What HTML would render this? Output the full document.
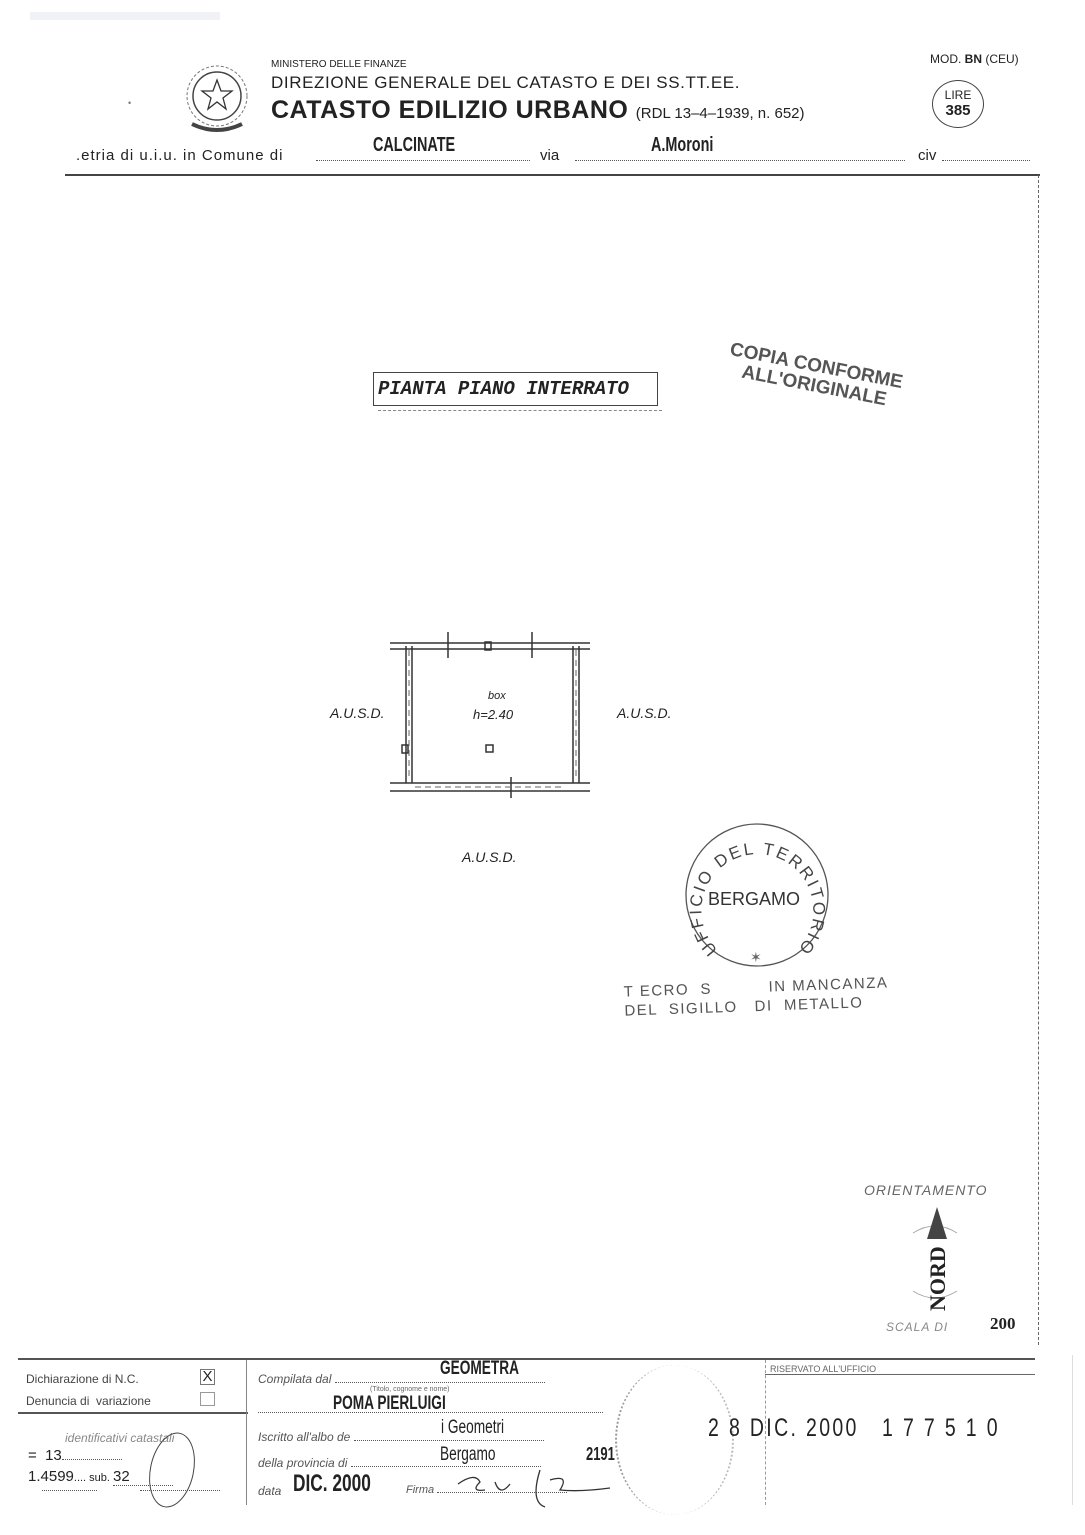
<!DOCTYPE html>
<html><head><meta charset="utf-8"><style>
html,body{margin:0;padding:0;background:#fff}
body{width:1085px;height:1535px;position:relative;overflow:hidden;font-family:"Liberation Sans",sans-serif;color:#222}
.a{position:absolute;white-space:nowrap}
.cond{display:inline-block;transform:scaleX(.72);transform-origin:left center;font-weight:bold}
.dots{border-bottom:1px dotted #555}
.i{font-style:italic}
</style></head><body>
<div class="a" style="left:30px;top:12px;width:190px;height:8px;background:#f1f2f6"></div>

<svg class="a" style="left:182px;top:58px" width="70" height="80" viewBox="0 0 70 80">
<circle cx="35" cy="38" r="24" fill="none" stroke="#444" stroke-width="1.5"/>
<circle cx="35" cy="38" r="30" fill="none" stroke="#777" stroke-width="1" stroke-dasharray="3 2"/>
<polygon points="35,22 39,33 50,33 41,40 44,51 35,44 26,51 29,40 20,33 31,33" fill="none" stroke="#333" stroke-width="1.3"/>
<path d="M10 66 Q35 78 60 66" stroke="#444" stroke-width="4" fill="none"/>
</svg>
<div class="a" style="left:271px;top:59px;font-size:10px">MINISTERO DELLE FINANZE</div>
<div class="a" style="left:271px;top:73px;font-size:17px;letter-spacing:0.6px">DIREZIONE GENERALE DEL CATASTO E DEI SS.TT.EE.</div>
<div class="a" style="left:271px;top:96px;font-size:25px;font-weight:bold;letter-spacing:0.5px">CATASTO EDILIZIO URBANO <span style="font-size:15px;font-weight:normal;letter-spacing:0">(RDL 13–4–1939, n. 652)</span></div>
<div class="a" style="left:930px;top:52px;font-size:12px">MOD. <b>BN</b> (CEU)</div>
<div class="a" style="left:932px;top:80px;width:52px;height:48px;border:1.5px solid #444;border-radius:50%;text-align:center;font-size:12px;line-height:16px;padding-top:6px;box-sizing:border-box">LIRE<br><b style="font-size:15px">385</b></div>
<div class="a" style="left:128px;top:98px;font-size:9px;color:#777">•</div>

<div class="a" style="left:76px;top:147px;font-size:15px;letter-spacing:1px">.etria di u.i.u. in Comune di</div>
<div class="a dots" style="left:316px;top:160px;width:214px"></div>
<div class="a" style="left:540px;top:147px;font-size:15px">via</div>
<div class="a dots" style="left:575px;top:160px;width:330px"></div>
<div class="a" style="left:918px;top:147px;font-size:15px">civ</div>
<div class="a dots" style="left:942px;top:160px;width:88px"></div>
<div class="a" style="left:373px;top:134px;font-size:20px"><span class="cond">CALCINATE</span></div>
<div class="a" style="left:651px;top:134px;font-size:20px"><span class="cond">A.Moroni</span></div>

<div class="a" style="left:65px;top:174px;width:975px;height:2px;background:#444"></div>
<div class="a" style="left:1038px;top:175px;width:1px;height:1170px;border-left:1px dashed #666"></div>

<div class="a" style="left:373px;top:372px;width:285px;height:34px;border:1.5px solid #444;box-sizing:border-box"></div>
<div class="a" style="left:378px;top:406px;width:284px;height:4px;border-bottom:1px dashed #888"></div>
<div class="a" style="left:378px;top:378px;font-family:'Liberation Mono',monospace;font-style:italic;font-weight:bold;font-size:19px">PIANTA PIANO INTERRATO</div>

<div class="a" style="left:732px;top:340px;font-size:19px;font-weight:bold;color:#555;transform:rotate(11deg);transform-origin:left top;line-height:20px">COPIA CONFORME<br>&nbsp;&nbsp;&nbsp;ALL'ORIGINALE</div>

<svg class="a" style="left:385px;top:630px" width="215" height="170" viewBox="0 0 215 170">
<g stroke="#333" fill="none" stroke-width="1.5">
<line x1="5" y1="13" x2="205" y2="13"/><line x1="5" y1="19" x2="205" y2="19"/>
<line x1="5" y1="153" x2="205" y2="153"/><line x1="5" y1="161" x2="205" y2="161"/>
<line x1="21" y1="16" x2="21" y2="153"/><line x1="27" y1="16" x2="27" y2="153"/>
<line x1="188" y1="16" x2="188" y2="153"/><line x1="194" y1="16" x2="194" y2="153"/>
<line x1="63" y1="2" x2="63" y2="28"/><line x1="147" y1="2" x2="147" y2="28"/>
<line x1="126" y1="147" x2="126" y2="168"/>
<rect x="100" y="12" width="6" height="8"/>
<rect x="17" y="115" width="6" height="8"/>
<rect x="101" y="115" width="7" height="7"/>
</g>
<g stroke="#666" stroke-width="1" stroke-dasharray="6 4">
<line x1="24" y1="20" x2="24" y2="150"/><line x1="191" y1="20" x2="191" y2="150"/>
<line x1="30" y1="157" x2="180" y2="157"/>
</g>
</svg>
<div class="a i" style="left:488px;top:690px;font-size:11px">box</div>
<div class="a i" style="left:473px;top:707px;font-size:13px">h=2.40</div>
<div class="a i" style="left:330px;top:705px;font-size:14px">A.U.S.D.</div>
<div class="a i" style="left:617px;top:705px;font-size:14px">A.U.S.D.</div>
<div class="a i" style="left:462px;top:849px;font-size:14px">A.U.S.D.</div>

<svg class="a" style="left:680px;top:822px" width="160" height="150" viewBox="0 0 160 150">
<circle cx="77" cy="73" r="71" fill="none" stroke="#555" stroke-width="1.3"/>
<defs><path id="arc" d="M 38 128 A 56 56 0 1 1 122 122"/></defs>
<text font-family="Liberation Sans" font-size="17" fill="#444"><textPath href="#arc" textLength="262" lengthAdjust="spacing">UFFICIO DEL TERRITORIO</textPath></text>
<text x="28" y="83" font-family="Liberation Sans" font-size="18" fill="#333">BERGAMO</text>
<text x="70" y="140" font-size="14" fill="#666">✶</text>
</svg>
<div class="a" style="left:624px;top:978px;font-size:15px;color:#555;letter-spacing:1.5px;transform:rotate(-2deg);line-height:19px">T ECRO &nbsp;S&nbsp; &nbsp; &nbsp; &nbsp; &nbsp; IN MANCANZA<br>DEL &nbsp;SIGILLO &nbsp; DI &nbsp;METALLO</div>

<div class="a i" style="left:864px;top:1182px;font-size:14px;color:#666;letter-spacing:1px">ORIENTAMENTO</div>
<svg class="a" style="left:905px;top:1205px" width="60" height="110" viewBox="0 0 60 110">
<path d="M8 28 Q30 14 52 28" stroke="#aaa" fill="none" stroke-width="1"/>
<path d="M8 86 Q30 100 52 86" stroke="#aaa" fill="none" stroke-width="1"/>
<polygon points="32,2 22,34 42,34" fill="#444"/>
<text transform="translate(40,106) rotate(-90)" font-family="Liberation Serif" font-weight="bold" font-size="22" fill="#222">NORD</text>
</svg>
<div class="a i" style="left:886px;top:1320px;font-size:12px;color:#888;letter-spacing:1px">SCALA DI</div>
<div class="a" style="left:990px;top:1314px;font-family:'Liberation Serif',serif;font-weight:bold;font-size:17px">200</div>

<div class="a" style="left:18px;top:1358px;width:1017px;height:2px;background:#555"></div>
<div class="a" style="left:18px;top:1412px;width:230px;height:1.5px;background:#555"></div>
<div class="a" style="left:765px;top:1374px;width:270px;height:1px;background:#666"></div>
<div class="a" style="left:246px;top:1360px;width:1px;height:145px;background:#888"></div>
<div class="a" style="left:765px;top:1360px;width:1px;height:145px;border-left:1px dashed #999"></div>

<div class="a" style="left:26px;top:1372px;font-size:12px;color:#444">Dichiarazione di N.C.</div>
<div class="a" style="left:26px;top:1394px;font-size:12px;color:#444">Denuncia di &nbsp;variazione</div>
<div class="a" style="left:200px;top:1369px;width:13px;height:14px;border:1px solid #777;font-size:15px;line-height:14px;text-align:center">X</div>
<div class="a" style="left:200px;top:1392px;width:13px;height:12px;border:1px solid #999"></div>
<div class="a i" style="left:65px;top:1431px;font-size:12px;color:#888">identificativi catastali</div>
<div class="a" style="left:28px;top:1447px;font-size:15px">= &nbsp;13<span class="dots" style="display:inline-block;width:60px"></span></div>
<div class="a" style="left:28px;top:1468px;font-size:15px">1.4599<span style="font-size:11px">.... sub. </span><span class="dots" style="display:inline-block;width:60px">32</span></div>
<div class="a" style="left:150px;top:1432px;width:42px;height:74px;border:1px solid #444;border-radius:50%;transform:rotate(12deg)"></div>
<div class="a dots" style="left:42px;top:1490px;width:55px"></div>
<div class="a dots" style="left:140px;top:1490px;width:80px"></div>

<div class="a i" style="left:258px;top:1372px;font-size:12px;color:#555">Compilata dal <span class="dots" style="display:inline-block;width:210px"></span></div>
<div class="a" style="left:440px;top:1358px;font-size:19px"><span class="cond">GEOMETRA</span></div>
<div class="a" style="left:370px;top:1386px;font-size:7px;color:#666">(Titolo, cognome e nome)</div>
<div class="a dots" style="left:258px;top:1412px;width:345px"></div>
<div class="a" style="left:333px;top:1393px;font-size:19px"><span class="cond">POMA PIERLUIGI</span></div>
<div class="a i" style="left:258px;top:1430px;font-size:12px;color:#555">Iscritto all'albo de <span class="dots" style="display:inline-block;width:190px"></span></div>
<div class="a" style="left:441px;top:1417px;font-size:19px"><span class="cond" style="font-weight:normal">i Geometri</span></div>
<div class="a i" style="left:258px;top:1456px;font-size:12px;color:#555">della provincia di <span class="dots" style="display:inline-block;width:190px"></span></div>
<div class="a" style="left:440px;top:1444px;font-size:19px"><span class="cond" style="font-weight:normal">Bergamo</span></div>
<div class="a" style="left:586px;top:1444px;font-size:18px"><span class="cond">2191</span></div>
<div class="a i" style="left:258px;top:1484px;font-size:12px;color:#555">data</div>
<div class="a" style="left:293px;top:1470px;font-size:24px"><span class="cond">DIC. 2000</span></div>
<div class="a i" style="left:406px;top:1484px;font-size:11px;color:#555">Firma <span class="dots" style="display:inline-block;width:130px"></span></div>
<svg class="a" style="left:450px;top:1462px" width="170" height="50" viewBox="0 0 170 50">
<path d="M8 22 Q25 10 30 20 Q20 30 35 28 M45 20 Q50 35 60 22 M90 8 Q80 40 95 45 M100 18 Q120 12 110 28 Q130 30 160 26" stroke="#333" fill="none" stroke-width="1.3"/>
</svg>
<div class="a" style="left:615px;top:1365px;width:115px;height:150px;border-left:2px dotted #999;border-right:2px dotted #bbb;border-radius:50%"></div>
<div class="a" style="left:708px;top:1414px;font-size:25px;letter-spacing:3px"><span class="cond" style="font-weight:normal;transform:scaleX(.78)">2 8 DIC. 2000 &nbsp;&nbsp;1 7 7 5 1 0</span></div>
<div class="a" style="left:770px;top:1364px;font-size:9px;color:#666">RISERVATO ALL'UFFICIO</div>
<div class="a" style="left:1072px;top:1355px;width:1px;height:150px;background:#ddd"></div>
</body></html>
